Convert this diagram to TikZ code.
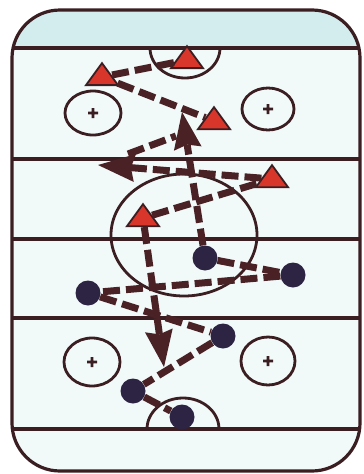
\documentclass[tikz,border=0pt]{standalone}
\usetikzlibrary{arrows.meta,shapes.geometric}
\definecolor{rinkline}{HTML}{3A1E22}
\definecolor{ice}{HTML}{F1F9F9}
\definecolor{endice}{HTML}{D3ECEE}
\definecolor{mark}{HTML}{4A2226}
\definecolor{attack}{HTML}{D9362B}
\definecolor{defend}{HTML}{2C2442}
\begin{document}
\begin{tikzpicture}[x=1pt,y=-1pt,
    rink/.style={draw=rinkline,line width=3.2pt},
    spot/.style={draw=rinkline,line width=2.8pt},
    move/.style={draw=mark,line width=7pt,dash pattern=on 17pt off 6pt},
    atk/.style={isosceles triangle,isosceles triangle apex angle=75,shape border rotate=90,
        isosceles triangle stretches,minimum width=32pt,minimum height=22pt,inner sep=0pt,
        fill=attack,draw=rinkline,line width=1.8pt},
    def/.style={circle,fill=defend,minimum size=25pt,inner sep=0pt},
    bigtip/.style={-{Stealth[length=37pt,width=28pt,inset=4pt,line width=0pt]}}]
    \useasboundingbox (0,0) rectangle (364,474);
    \fill[white] (0,0) rectangle (364,474);
    \begin{scope}
        \clip[rounded corners=48pt] (12,10) rectangle (360,471);
        \fill[ice] (0,0) rectangle (364,474);
        \fill[endice] (0,0) rectangle (364,48);
    \end{scope}
    \draw[rink,rounded corners=48pt] (12,10) rectangle (360,471);
    \foreach \y in {48,159,239,318,429} \draw[rink] (12,\y) -- (360,\y);
    % creases and circles
    \draw[spot] (150,48) arc [start angle=180,end angle=0,x radius=35,y radius=30];
    \draw[spot] (147,429) arc [start angle=180,end angle=360,x radius=36,y radius=31];
    \draw[spot] (184,235) ellipse [x radius=73,y radius=61];
    \foreach \x/\y/\a/\b in {93/113/28/22,268/109/26/21,92/362/28/24,268/361/27/24}
        \draw[spot] (\x,\y) ellipse [x radius=\a,y radius=\b] (\x-5,\y) -- (\x+5,\y) (\x,\y-5) -- (\x,\y+5);
    % players
    \node[atk] (t1) at (187,60) {};
    \node[atk] (t2) at (102,77) {};
    \node[atk] (t3) at (214,121) {};
    \node[atk] (t4) at (272,179) {};
    \node[atk] (t5) at (143,218) {};
    \node[def] (c1) at (205,258) {};
    \node[def] (c2) at (293,275) {};
    \node[def] (c3) at (88,293) {};
    \node[def] (c4) at (223,336) {};
    \node[def] (c5) at (133,391) {};
    \node[def] (c6) at (182,417) {};
    \coordinate (up) at (182,112);
    \coordinate (lt) at (98,165);
    \coordinate (la) at (128,154);
    \coordinate (lb) at (176,136);
    \coordinate (dn) at (164,367);
    % moves
    \draw[move] (t1) -- (t2);
    \draw[move] (t2) -- (t3);
    \draw[move,bigtip] (c1) -- (up);
    \draw[move,bigtip] (t4) -- (lt);
    \draw[move] (la) -- (lb);
    \draw[move] (t5) -- (t4);
    \draw[move,bigtip] (t5) -- (dn);
    \draw[move] (c1) -- (c2);
    \draw[move] (c2) -- (c3);
    \draw[move] (c3) -- (c4);
    \draw[move] (c4) -- (c5);
    \draw[move] (c5) -- (c6);
\end{tikzpicture}
\end{document}
